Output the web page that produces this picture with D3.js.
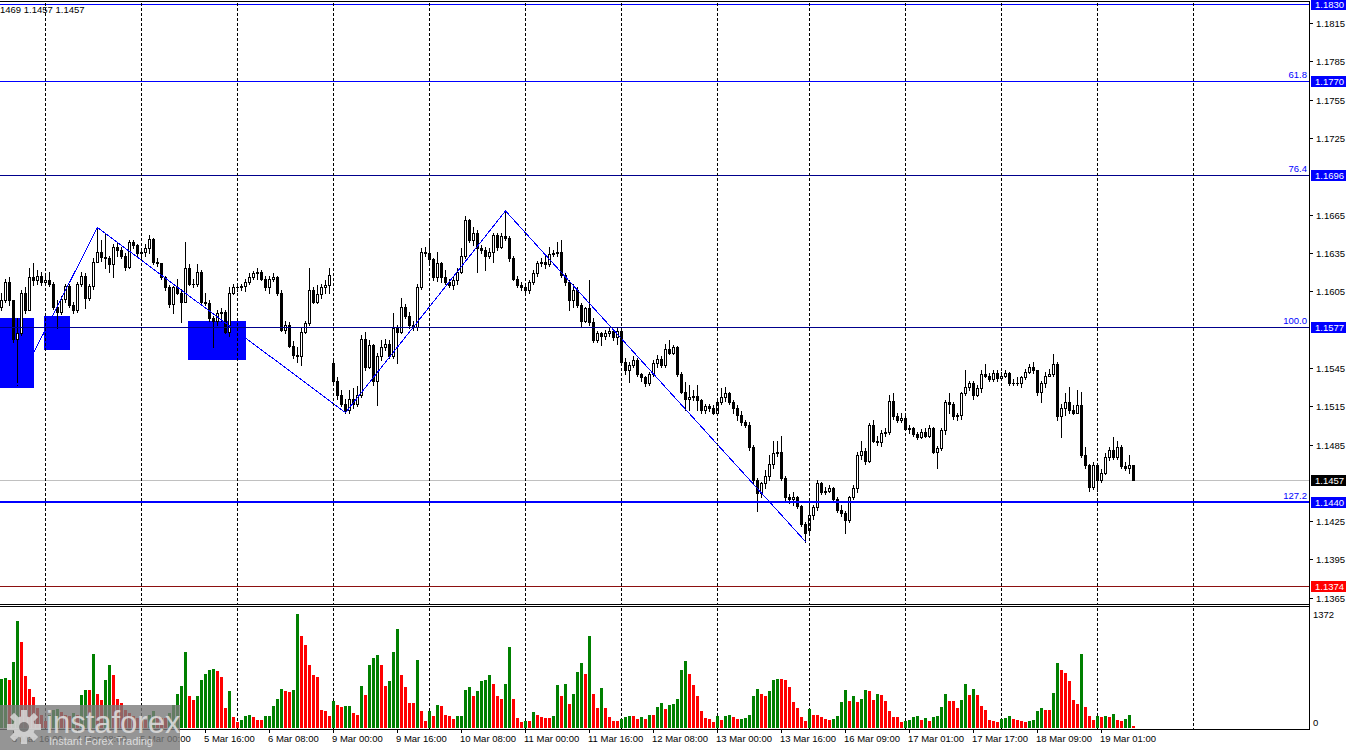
<!DOCTYPE html>
<html>
<head>
<meta charset="utf-8">
<script src="https://cdn.jsdelivr.net/npm/d3@7/dist/d3.min.js"></script>
<style>
  body { margin: 0; background: #fff; }
  svg { display: block; }
  text { font-family: "Liberation Sans", Arial, sans-serif; }
</style>
</head>
<body>
<div id="chart"></div>
<script>
// EURUSD H1, 3 Mar 13:00 .. 19 Mar 09:00 (one bar per hour)
const closes = [
  1.1598,1.1612,1.1598,1.1568,1.1572,1.1604,1.1590,1.1616,1.1614,1.1617,
  1.1612,1.1614,1.1611,1.1593,1.1589,1.1599,1.1609,1.1594,1.1590,1.1611,
  1.1617,1.1600,1.1609,1.1628,1.1636,1.1632,1.1631,1.1626,1.1640,1.1637,
  1.1633,1.1624,1.1644,1.1641,1.1635,1.1636,1.1639,1.1646,1.1628,1.1627,
  1.1616,1.1608,1.1595,1.1608,1.1604,1.1597,1.1623,1.1611,1.1611,1.1620,
  1.1597,1.1596,1.1584,1.1582,1.1588,1.1589,1.1573,1.1604,1.1608,1.1608,
  1.1609,1.1612,1.1616,1.1619,1.1620,1.1615,1.1608,1.1615,1.1616,1.1604,
  1.1575,1.1579,1.1562,1.1555,1.1554,1.1573,1.1580,1.1606,1.1597,1.1603,
  1.1608,1.1610,1.1618,1.1535,1.1524,1.1517,1.1512,1.1521,1.1517,1.1524,
  1.1568,1.1546,1.1563,1.1535,1.1554,1.1561,1.1564,1.1554,1.1576,1.1573,
  1.1593,1.1586,1.1579,1.1577,1.1608,1.1636,1.1635,1.1630,1.1616,1.1627,
  1.1616,1.1612,1.1610,1.1614,1.1620,1.1633,1.1661,1.1645,1.1651,1.1639,
  1.1637,1.1633,1.1636,1.1649,1.1640,1.1648,1.1647,1.1631,1.1615,1.1610,
  1.1608,1.1606,1.1612,1.1619,1.1627,1.1628,1.1626,1.1634,1.1635,1.1636,
  1.1618,1.1612,1.1598,1.1606,1.1594,1.1582,1.1592,1.1581,1.1567,1.1572,
  1.1570,1.1572,1.1574,1.1569,1.1574,1.1550,1.1543,1.1547,1.1551,1.1540,
  1.1538,1.1533,1.1540,1.1549,1.1552,1.1547,1.1560,1.1557,1.1561,1.1540,
  1.1526,1.1521,1.1522,1.1523,1.1520,1.1512,1.1515,1.1514,1.1510,1.1518,
  1.1522,1.1525,1.1518,1.1514,1.1508,1.1503,1.1500,1.1483,1.1457,1.1447,
  1.1455,1.1460,1.1470,1.1478,1.1479,1.1459,1.1444,1.1442,1.1444,1.1437,
  1.1423,1.1416,1.1430,1.1436,1.1455,1.1448,1.1449,1.1451,1.1442,1.1434,
  1.1431,1.1426,1.1444,1.1451,1.1477,1.1480,1.1472,1.1500,1.1488,1.1487,
  1.1494,1.1495,1.1519,1.1507,1.1504,1.1506,1.1497,1.1498,1.1493,1.1491,
  1.1495,1.1492,1.1498,1.1479,1.1482,1.1496,1.1518,1.1517,1.1507,1.1508,
  1.1525,1.1530,1.1533,1.1524,1.1529,1.1540,1.1539,1.1536,1.1541,1.1537,
  1.1539,1.1541,1.1533,1.1533,1.1533,1.1538,1.1542,1.1546,1.1543,1.1526,
  1.1533,1.1539,1.1540,1.1548,1.1507,1.1514,1.1518,1.1512,1.1510,1.1516,
  1.1477,1.1469,1.1452,1.1469,1.1457,1.1463,1.1475,1.1481,1.1475,1.1483,
  1.1468,1.1467,1.1469,1.1457
];
const highs = [
  1.1604,1.1615,1.1616,1.1598,1.1584,1.1606,1.1608,1.1623,1.1627,1.1622,
  1.1620,1.1617,1.1620,1.1612,1.1598,1.1601,1.1611,1.1611,1.1597,1.1612,
  1.1620,1.1619,1.1611,1.1631,1.1655,1.1645,1.1651,1.1633,1.1642,1.1643,
  1.1640,1.1635,1.1645,1.1645,1.1642,1.1639,1.1642,1.1649,1.1647,1.1631,
  1.1627,1.1617,1.1610,1.1609,1.1615,1.1607,1.1644,1.1626,1.1615,1.1626,
  1.1622,1.1604,1.1598,1.1586,1.1590,1.1592,1.1590,1.1608,1.1611,1.1611,
  1.1611,1.1615,1.1619,1.1621,1.1623,1.1622,1.1617,1.1617,1.1619,1.1617,
  1.1606,1.1582,1.1581,1.1566,1.1561,1.1576,1.1582,1.1623,1.1608,1.1610,
  1.1611,1.1614,1.1623,1.1551,1.1538,1.1528,1.1521,1.1528,1.1529,1.1531,
  1.1571,1.1573,1.1567,1.1564,1.1557,1.1567,1.1568,1.1567,1.1588,1.1579,
  1.1600,1.1595,1.1589,1.1582,1.1611,1.1639,1.1640,1.1645,1.1631,1.1636,
  1.1628,1.1622,1.1615,1.1616,1.1623,1.1639,1.1664,1.1662,1.1655,1.1653,
  1.1641,1.1640,1.1639,1.1651,1.1651,1.1651,1.1668,1.1648,1.1633,1.1617,
  1.1612,1.1611,1.1614,1.1622,1.1629,1.1631,1.1633,1.1640,1.1637,1.1644,
  1.1645,1.1619,1.1614,1.1611,1.1608,1.1596,1.1593,1.1614,1.1584,1.1574,
  1.1573,1.1575,1.1576,1.1575,1.1576,1.1575,1.1553,1.1550,1.1554,1.1553,
  1.1541,1.1539,1.1542,1.1551,1.1555,1.1554,1.1564,1.1567,1.1563,1.1562,
  1.1542,1.1534,1.1532,1.1528,1.1532,1.1521,1.1517,1.1517,1.1516,1.1520,
  1.1529,1.1530,1.1526,1.1520,1.1516,1.1511,1.1504,1.1503,1.1485,1.1459,
  1.1456,1.1465,1.1477,1.1488,1.1488,1.1492,1.1460,1.1446,1.1448,1.1445,
  1.1438,1.1424,1.1438,1.1438,1.1457,1.1456,1.1452,1.1453,1.1452,1.1444,
  1.1438,1.1433,1.1445,1.1453,1.1479,1.1488,1.1482,1.1502,1.1504,1.1492,
  1.1496,1.1498,1.1524,1.1525,1.1510,1.1510,1.1507,1.1500,1.1499,1.1495,
  1.1497,1.1498,1.1500,1.1499,1.1484,1.1498,1.1520,1.1525,1.1518,1.1510,
  1.1526,1.1543,1.1535,1.1535,1.1532,1.1543,1.1548,1.1541,1.1543,1.1543,
  1.1542,1.1543,1.1542,1.1536,1.1538,1.1539,1.1544,1.1548,1.1550,1.1543,
  1.1535,1.1542,1.1544,1.1556,1.1550,1.1517,1.1525,1.1530,1.1516,1.1528,
  1.1526,1.1483,1.1470,1.1471,1.1470,1.1466,1.1478,1.1483,1.1491,1.1488,
  1.1485,1.1471,1.1477,1.1469
];
const lows = [
  1.1590,1.1597,1.1594,1.1565,1.1532,1.1571,1.1588,1.1590,1.1610,1.1611,
  1.1610,1.1611,1.1609,1.1591,1.1576,1.1587,1.1597,1.1593,1.1588,1.1589,
  1.1609,1.1592,1.1598,1.1607,1.1628,1.1629,1.1623,1.1620,1.1616,1.1633,
  1.1631,1.1622,1.1623,1.1639,1.1633,1.1631,1.1633,1.1635,1.1626,1.1625,
  1.1615,1.1606,1.1593,1.1588,1.1603,1.1581,1.1597,1.1610,1.1608,1.1609,
  1.1594,1.1594,1.1582,1.1561,1.1579,1.1582,1.1572,1.1570,1.1603,1.1605,
  1.1606,1.1605,1.1611,1.1615,1.1615,1.1614,1.1606,1.1604,1.1613,1.1602,
  1.1574,1.1572,1.1561,1.1553,1.1550,1.1547,1.1572,1.1579,1.1596,1.1596,
  1.1600,1.1604,1.1604,1.1532,1.1521,1.1515,1.1510,1.1510,1.1514,1.1515,
  1.1522,1.1543,1.1545,1.1532,1.1516,1.1551,1.1559,1.1553,1.1553,1.1549,
  1.1572,1.1584,1.1576,1.1575,1.1575,1.1607,1.1633,1.1628,1.1614,1.1613,
  1.1612,1.1611,1.1608,1.1607,1.1611,1.1619,1.1631,1.1644,1.1641,1.1620,
  1.1635,1.1622,1.1631,1.1628,1.1637,1.1639,1.1645,1.1629,1.1614,1.1608,
  1.1606,1.1604,1.1604,1.1611,1.1617,1.1625,1.1623,1.1625,1.1633,1.1633,
  1.1616,1.1610,1.1590,1.1593,1.1593,1.1577,1.1581,1.1579,1.1565,1.1565,
  1.1563,1.1568,1.1570,1.1567,1.1564,1.1548,1.1540,1.1534,1.1546,1.1539,
  1.1535,1.1531,1.1532,1.1539,1.1546,1.1546,1.1546,1.1556,1.1556,1.1539,
  1.1525,1.1512,1.1512,1.1520,1.1512,1.1510,1.1510,1.1511,1.1509,1.1509,
  1.1517,1.1519,1.1517,1.1510,1.1504,1.1500,1.1499,1.1481,1.1455,1.1433,
  1.1444,1.1451,1.1457,1.1467,1.1476,1.1457,1.1440,1.1439,1.1438,1.1435,
  1.1421,1.1409,1.1416,1.1427,1.1434,1.1446,1.1446,1.1448,1.1440,1.1432,
  1.1429,1.1416,1.1424,1.1442,1.1448,1.1474,1.1470,1.1471,1.1487,1.1485,
  1.1484,1.1492,1.1493,1.1505,1.1503,1.1503,1.1496,1.1494,1.1492,1.1489,
  1.1490,1.1491,1.1491,1.1478,1.1467,1.1481,1.1493,1.1510,1.1505,1.1504,
  1.1505,1.1524,1.1528,1.1521,1.1523,1.1526,1.1538,1.1535,1.1535,1.1535,
  1.1536,1.1538,1.1532,1.1532,1.1532,1.1530,1.1536,1.1541,1.1541,1.1524,
  1.1518,1.1530,1.1539,1.1539,1.1504,1.1491,1.1508,1.1510,1.1509,1.1510,
  1.1475,1.1467,1.1449,1.1450,1.1449,1.1456,1.1462,1.1473,1.1474,1.1474,
  1.1467,1.1465,1.1463,1.1457
];
// opens that do not equal the previous close (first bar, weekend gaps)
const gapOpens = { 0: 1.1593, 83: 1.1549, 202: 1.1418 };

const volumes = [
  594,596,582,790,1284,1031,622,473,373,241,
  160,80,160,221,233,193,160,148,180,160,
  401,461,453,895,413,341,574,763,642,349,
  301,221,180,140,120,100,100,160,201,148,
  120,120,180,281,413,510,911,389,333,381,
  574,654,702,714,682,610,241,441,128,68,
  100,140,160,128,100,98,140,146,261,353,
  473,441,429,453,1372,1104,995,754,642,614,
  213,210,140,321,281,249,261,269,180,152,
  510,401,763,843,883,763,502,562,911,1196,
  642,494,301,298,823,209,80,209,148,281,
  269,160,140,108,140,148,461,494,389,441,
  562,582,642,534,389,353,534,971,349,120,
  68,88,84,197,160,132,120,116,140,522,
  381,534,293,413,670,783,654,1104,413,241,
  482,241,132,88,84,112,128,148,145,112,
  128,112,160,156,253,301,233,281,293,353,
  694,803,654,522,381,209,120,108,68,140,
  92,148,152,128,108,114,118,160,381,473,
  413,381,441,582,594,590,574,490,309,241,
  132,88,233,160,160,128,112,100,112,140,
  309,461,321,381,309,353,453,450,333,413,
  401,321,201,132,132,68,88,92,128,148,
  100,120,88,128,148,253,413,329,326,241,
  341,534,401,470,401,269,213,100,88,68,
  112,116,148,112,100,88,76,88,100,209,
  241,221,218,421,783,702,662,562,341,289,
  895,253,148,100,148,132,148,132,173,100,
  88,112,160,28
];

const timeLabels = [
  { bar: 3, text: "3 Mar 16:00" }, { bar: 19, text: "4 Mar 08:00" },
  { bar: 35, text: "5 Mar 00:00" }, { bar: 51, text: "5 Mar 16:00" },
  { bar: 67, text: "6 Mar 08:00" }, { bar: 83, text: "9 Mar 00:00" },
  { bar: 99, text: "9 Mar 16:00" }, { bar: 115, text: "10 Mar 08:00" },
  { bar: 131, text: "11 Mar 00:00" }, { bar: 147, text: "11 Mar 16:00" },
  { bar: 163, text: "12 Mar 08:00" }, { bar: 179, text: "13 Mar 00:00" },
  { bar: 195, text: "13 Mar 16:00" }, { bar: 211, text: "16 Mar 09:00" },
  { bar: 227, text: "17 Mar 01:00" }, { bar: 243, text: "17 Mar 17:00" },
  { bar: 259, text: "18 Mar 09:00" }, { bar: 275, text: "19 Mar 01:00" }
];
// midnight bars -> dashed grid
const gridBars = [11, 35, 59, 83, 107, 131, 155, 179, 202, 226, 250, 274, 298];

// visible price scale labels (the others sit under the price tags)
const priceTicks = [1.1815, 1.1785, 1.1755, 1.1725, 1.1665, 1.1635, 1.1605,
  1.1545, 1.1515, 1.1485, 1.1425, 1.1395, 1.1365];

// fibo / horizontal levels
const levels = [
  { price: 1.1830, fib: "", color: "#0000ff", tag: "#0000ff", width: 1 },
  { price: 1.1770, fib: "61.8", color: "#0000ff", tag: "#0000ff", width: 1 },
  { price: 1.1696, fib: "76.4", color: "#00008c", tag: "#0000ff", width: 1 },
  { price: 1.1577, fib: "100.0", color: "#00008c", tag: "#0000ff", width: 1 },
  { price: 1.1440, fib: "127.2", color: "#0000ff", tag: "#0000ff", width: 2 },
  { price: 1.1374, fib: "", color: "#8c1010", tag: "#ff0000", width: 1 }
];
const bidPrice = 1.1457;

const zigzag = [
  { bar: 4, price: 1.1532 }, { bar: 24, price: 1.1655 }, { bar: 86, price: 1.1510 },
  { bar: 126, price: 1.1668 }, { bar: 201, price: 1.1409 }
];
const zones = [
  { from: 0, to: 8, top: 1.1584, bottom: 1.1529 },
  { from: 11, to: 17, top: 1.1586, bottom: 1.1559 },
  { from: 47, to: 61, top: 1.1582, bottom: 1.1551 }
];
const volMax = 1372;

const W = 1350, H = 750;
const axisX = 1309;
const priceBottom = 604, volTop = 607, volBottom = 729;

const candles = closes.map((c, i) => {
  const o = gapOpens[i] !== undefined ? gapOpens[i] : closes[i - 1];
  return { i, o, c, h: Math.max(highs[i], o, c), l: Math.min(lows[i], o, c), v: volumes[i] };
});

const x = d3.scaleLinear().domain([0, closes.length - 1]).range([1, 1133]);
const y = d3.scaleLinear().domain([1.1830, 1.1440]).range([4, 502]);
const vy = d3.scaleLinear().domain([0, volMax]).range([728, 614]);
const px = i => Math.round(x(i));
const py = p => Math.round(y(p));

const svg = d3.select("#chart").append("svg")
  .attr("width", W).attr("height", H)
  .style("shape-rendering", "crispEdges");

svg.append("rect").attr("width", W).attr("height", H).attr("fill", "#fff");

const plot = svg.append("g");
const clipP = svg.append("clipPath").attr("id", "cp");
clipP.append("rect").attr("x", 0).attr("y", 0).attr("width", axisX).attr("height", priceBottom);
const pricePane = plot.append("g").attr("clip-path", "url(#cp)");

// zones (background objects)
pricePane.selectAll(".zone").data(zones).join("rect")
  .attr("x", d => px(d.from) - 1)
  .attr("width", d => px(d.to) - px(d.from) + 2)
  .attr("y", d => py(d.top))
  .attr("height", d => py(d.bottom) - py(d.top))
  .attr("fill", "#0000ff");

// grid
const grid = plot.append("g");
gridBars.forEach(b => {
  const gx = px(b) + 0.5;
  grid.append("line").attr("x1", gx).attr("x2", gx).attr("y1", 3).attr("y2", priceBottom)
    .attr("stroke", "#000").attr("stroke-dasharray", "3,2");
  grid.append("line").attr("x1", gx).attr("x2", gx).attr("y1", volTop + 1).attr("y2", volBottom)
    .attr("stroke", "#000").attr("stroke-dasharray", "3,2");
});

// bid line
pricePane.append("rect").attr("x", 0).attr("width", axisX).attr("y", py(bidPrice)).attr("height", 1)
  .attr("fill", "#c0c0c0");

// candles
const cg = pricePane.append("g");
candles.forEach(d => {
  const cx = px(d.i);
  const yh = py(d.h), yl = py(d.l);
  const yt = py(Math.max(d.o, d.c)), yb = py(Math.min(d.o, d.c));
  cg.append("rect").attr("x", cx).attr("width", 1).attr("y", yh).attr("height", yl - yh + 1).attr("fill", "#000");
  cg.append("rect").attr("x", cx - 1).attr("width", 3).attr("y", yt).attr("height", yb - yt + 1).attr("fill", "#000");
  if (d.c > d.o && yb - yt > 1) {
    cg.append("rect").attr("x", cx).attr("width", 1).attr("y", yt + 1).attr("height", yb - yt - 1).attr("fill", "#fff");
  }
});

// zigzag
pricePane.append("path")
  .datum(zigzag)
  .attr("d", d3.line().x(d => px(d.bar) + 0.5).y(d => y(d.price)))
  .attr("fill", "none").attr("stroke", "#0000ff").attr("stroke-width", 1);

// levels
levels.forEach(l => {
  const ly = py(l.price);
  pricePane.append("rect").attr("x", 0).attr("width", axisX).attr("y", ly - (l.width - 1))
    .attr("height", l.width).attr("fill", l.color);
  if (l.fib) {
    svg.append("text").attr("x", axisX - 2).attr("y", ly - 3).attr("text-anchor", "end")
      .attr("font-size", "9.5px").attr("fill", "#0000ff").text(l.fib);
  }
});

// volumes (green when volume grows, red otherwise)
plot.append("g").selectAll("rect").data(candles).join("rect")
  .attr("x", d => px(d.i) - 1).attr("width", 3)
  .attr("y", d => Math.round(vy(d.v)))
  .attr("height", d => 728 - Math.round(vy(d.v)))
  .attr("fill", (d, i) => (i > 0 && d.v > volumes[i - 1]) || i === 0 ? "#008000" : "#ff0000");

// frame
const frame = svg.append("g").attr("fill", "#000");
frame.append("rect").attr("x", 0).attr("y", 1).attr("width", axisX + 1).attr("height", 1);
frame.append("rect").attr("x", 0).attr("y", 604).attr("width", axisX + 1).attr("height", 1);
frame.append("rect").attr("x", 0).attr("y", 606).attr("width", axisX + 1).attr("height", 1);
frame.append("rect").attr("x", 0).attr("y", volBottom).attr("width", axisX + 1).attr("height", 1);
frame.append("rect").attr("x", axisX).attr("y", 1).attr("width", 1).attr("height", volBottom);

// price axis
const pa = svg.append("g");
priceTicks.forEach(t => {
  const ty = py(t);
  pa.append("rect").attr("x", axisX + 1).attr("y", ty).attr("width", 3).attr("height", 1).attr("fill", "#000");
  pa.append("text").attr("x", axisX + 7).attr("y", ty + 4).attr("font-size", "9.5px").attr("fill", "#000")
    .text(d3.format(".4f")(t));
});

// price tags
const tags = levels.map(l => ({ price: l.price, bg: l.tag }))
  .concat([{ price: bidPrice, bg: "#000" }]);
tags.forEach(t => {
  const ty = py(t.price);
  pa.append("rect").attr("x", axisX + 2).attr("y", ty - 5).attr("width", 35).attr("height", 11).attr("fill", t.bg);
  pa.append("text").attr("x", axisX + 6).attr("y", ty + 4).attr("font-size", "9.5px").attr("fill", "#fff")
    .text(d3.format(".4f")(t.price));
});

// volume axis
pa.append("text").attr("x", axisX + 4).attr("y", Math.round(vy(volMax)) + 4).attr("font-size", "9.5px").text(volMax);
pa.append("text").attr("x", axisX + 4).attr("y", Math.round(vy(0)) - 2).attr("font-size", "9.5px").text("0");

// time axis
const ta = svg.append("g");
timeLabels.forEach(t => {
  const tx = px(t.bar);
  ta.append("rect").attr("x", tx).attr("y", volBottom + 1).attr("width", 1).attr("height", 3).attr("fill", "#000");
  ta.append("text").attr("x", tx - 1).attr("y", 742).attr("font-size", "9.5px").attr("fill", "#000").text(t.text);
});

// ohlc info, cut at the left edge
svg.append("text").attr("x", 0).attr("y", 13).attr("font-size", "9.5px").text("1469 1.1457 1.1457");

// watermark
const wm = svg.append("g").style("shape-rendering", "auto");
wm.append("rect").attr("x", 0).attr("y", 705).attr("width", 180).attr("height", 45)
  .attr("fill", "#7a7a7a").attr("opacity", 0.8);
const gear = wm.append("g").attr("transform", "translate(24,727)").attr("fill", "#d8d8d8").attr("opacity", 0.85);
d3.range(8).forEach(k => {
  gear.append("rect").attr("x", -3).attr("y", -17).attr("width", 6).attr("height", 8)
    .attr("transform", `rotate(${k * 45})`);
});
gear.append("circle").attr("r", 11);
gear.append("circle").attr("r", 5).attr("fill", "#7a7a7a");
wm.append("text").attr("x", 46).attr("y", 733).attr("font-family", "'Open Sans', sans-serif")
  .attr("font-size", "31px").attr("fill", "#e0e0e0").attr("opacity", 0.85).text("instaforex");
wm.append("text").attr("x", 49).attr("y", 745).attr("font-family", "'Open Sans', sans-serif")
  .attr("font-size", "11px").attr("fill", "#e8e8e8").attr("opacity", 0.85).text("Instant Forex Trading");
</script>
</body>
</html>
